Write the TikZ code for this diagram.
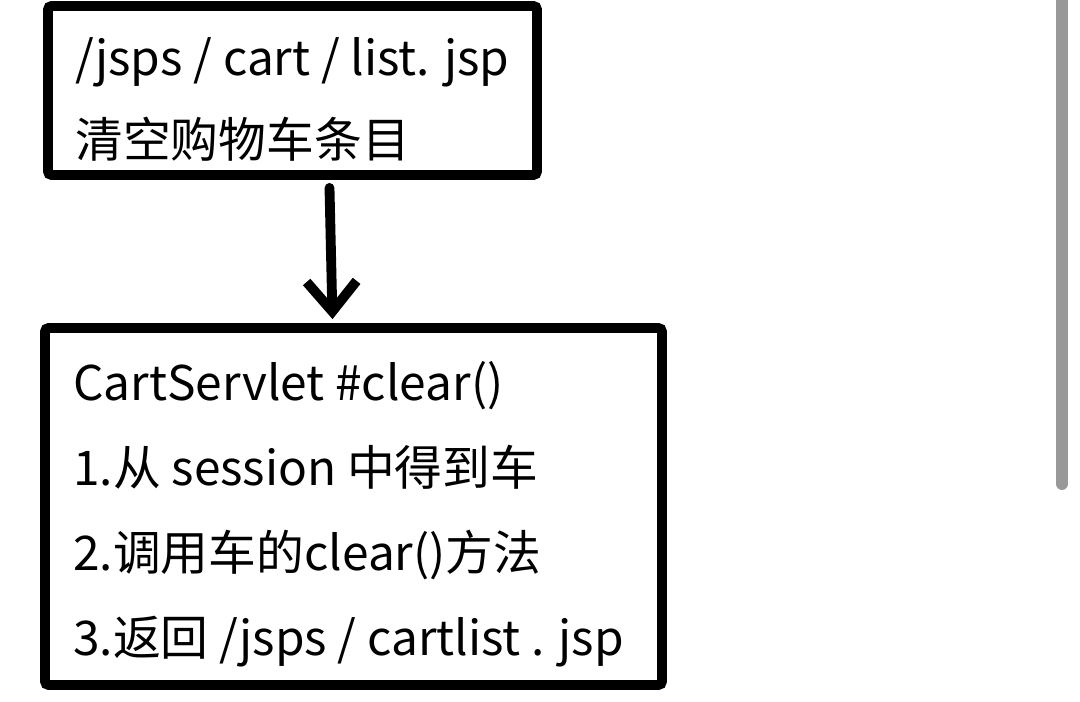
\documentclass[tikz,border=0pt]{standalone}
\usepackage{fontspec}
\setmainfont{Noto Sans CJK SC}
\definecolor{scrollgray}{RGB}{153, 153, 153}
\usetikzlibrary{arrows.meta, positioning, calc}

\begin{document}
\begin{tikzpicture}[
    x=0.02cm, y=-0.02cm,
    box/.style={draw, line width=5.6pt, rounded corners=2pt, inner sep=0pt},
    txt/.style={anchor=base west, inner sep=0pt, font=\fontsize{27.2}{30}\selectfont},
    arr/.style={-{Straight Barb[length=6mm, width=10mm]}, line width=5.6pt, line cap=round}
]
    \useasboundingbox (0,0) rectangle (1080,702);

    % the two boxes
    \node[box, minimum width=9.78cm, minimum height=3.38cm] (page) at (292.5,90.5) {};
    \node[box, minimum width=12.34cm, minimum height=7.14cm] (servlet) at (353.5,506.5) {};

    % texts of the page box
    \node[txt] (pagepath) at (75,76) {/jsps / cart / list. jsp};
    \node[txt] (pageact) at (75,158) {清空购物车条目};

    % texts of the servlet box
    \node[txt] (method) at (73,401) {CartServlet \#clear()};
    \node[txt] (stepone) at (73,486) {1.从 session 中得到车};
    \node[txt] (steptwo) at (73,571) {2.调用车的clear()方法};
    \node[txt] (stepthree) at (73,656) {3.返回 /jsps / cartlist . jsp};

    \draw[arr] ($(page.south)+(37,8)$) -- ($(servlet.north)+(-21,-4)$);

    % scroll bar at the right edge
    \draw[scrollgray, line width=6.8pt, line cap=round] (1062,-10) -- (1062,484);
\end{tikzpicture}
\end{document}
